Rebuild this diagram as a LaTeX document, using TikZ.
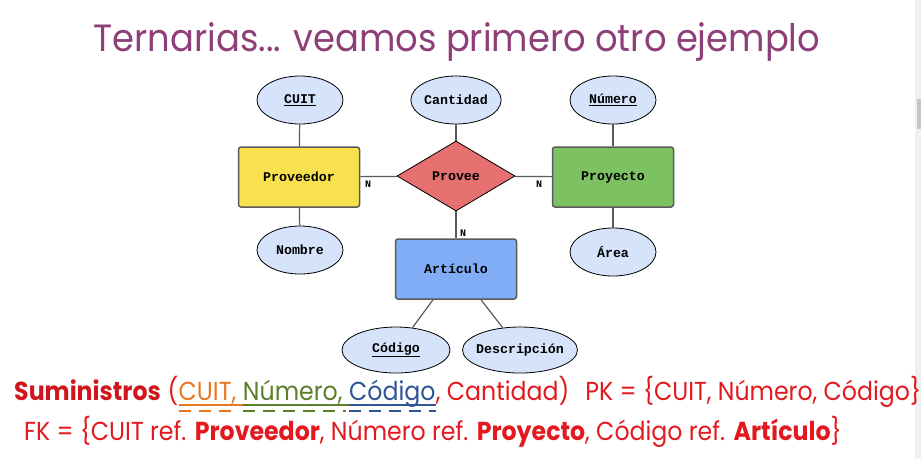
\documentclass[tikz,border=0pt]{standalone}
\usepackage{fontspec}
\setmainfont{Liberation Mono}
\newfontfamily\futura[FakeStretch=0.91]{Poppins}
\newfontfamily\futuraT[FakeStretch=0.93]{Poppins}
\usetikzlibrary{shapes.geometric,calc}
\definecolor{titlecol}{HTML}{8E3F78}
\definecolor{txtred}{HTML}{E3191F}
\definecolor{darkred}{HTML}{D0151C}
\definecolor{korange}{HTML}{E87722}
\definecolor{kgreen}{HTML}{5B7F2B}
\definecolor{kblue}{HTML}{2F5597}
\definecolor{attrfill}{HTML}{D6E4FB}
\definecolor{yelfill}{HTML}{F8E04E}
\definecolor{redfill}{HTML}{E5706F}
\definecolor{grnfill}{HTML}{7CC263}
\definecolor{blufill}{HTML}{80ADF6}
\definecolor{edgegray}{HTML}{5A5A5A}
\tikzset{
  attr/.style={ellipse, draw=black, line width=0.8pt, fill=attrfill, minimum width=86pt, minimum height=48pt, inner sep=0pt, font=\bfseries\fontsize{13.3}{13.3}\selectfont},
  entity/.style={rectangle, rounded corners=2.5pt, draw=edgegray, line width=1.5pt, minimum width=121pt, minimum height=60pt, inner sep=0pt, font=\bfseries\fontsize{13.3}{13.3}\selectfont},
  rel/.style={diamond, draw=black, line width=0.8pt, fill=redfill, minimum width=118pt, minimum height=70pt, inner sep=0pt, font=\bfseries\fontsize{13.3}{13.3}\selectfont},
  conn/.style={draw=edgegray, line width=1.2pt},
  card/.style={font=\bfseries\fontsize{10}{10}\selectfont, inner sep=0pt},
  txt/.style={inner sep=0pt, anchor=base west, font=\futura\fontsize{26}{26}\selectfont},
  solidul/.style={line width=2.6pt},
  dashul/.style={line width=2.8pt, dash pattern=on 12pt off 8pt},
}
\begin{document}
\begin{tikzpicture}[x=1pt,y=-1pt]
\useasboundingbox (0,0) rectangle (921,459);
% scrollbar
\fill[gray!12] (915,0) rectangle (921,459);
\fill[gray!45] (917,99) rectangle (921,129);
% title
\node[inner sep=0pt, anchor=base, text=titlecol, font=\futuraT\fontsize{38}{38}\selectfont] (title) at (457,51) {Ternarias... veamos primero otro ejemplo};
% ER diagram
\node[attr] (cuit) at (300,100) {\underline{CUIT}};
\node[attr] (cant) at (456,100) {Cantidad};
\node[attr] (num) at (613,100) {\underline{Número}};
\node[entity, fill=yelfill] (prov) at (299,177) {Proveedor};
\node[rel] (provee) at (456,176) {Provee};
\node[entity, fill=grnfill] (proy) at (613,177) {Proyecto};
\node[attr] (nom) at (300,250) {Nombre};
\node[attr] (area) at (613,252) {Área};
\node[entity, fill=blufill] (art) at (456,269) {Artículo};
\node[attr, minimum width=108pt, minimum height=46pt, inner xsep=-8pt] (cod) at (396,350) {\underline{Código}};
\node[attr, minimum width=115pt, minimum height=46pt, inner xsep=-10pt] (desc) at (520,350) {Descripción};
\draw[conn] (cuit) -- (prov);
\draw[conn] (nom) -- (prov);
\draw[conn] (cant) -- (provee);
\draw[conn] (num) -- (proy);
\draw[conn] (area) -- (proy);
\draw[conn] (prov) -- (provee);
\draw[conn] (provee) -- (proy);
\draw[conn] (provee) -- (art);
\draw[conn] ([xshift=-23pt]art.south) -- (cod);
\draw[conn] ([xshift=25pt]art.south) -- (desc);
\node[card] (n1) at (368,184) {N};
\node[card] (n2) at (539,184) {N};
\node[card] (n3) at (463,233) {N};
% relational text
\node[txt, text=darkred, font=\futura\bfseries\fontsize{26}{26}\selectfont] (sum) at (14,400) {Suministros};
\node[txt, text=txtred] (par) at (sum.base east) {\null\ (};
\node[txt, text=korange] (kc) at (par.base east) {CUIT,\ \null};
\node[txt, text=kgreen] (kn) at (kc.base east) {Número,\ \null};
\node[txt, text=kblue] (kd) at (kn.base east) {Código};
\node[txt, text=txtred] (rest) at (kd.base east) {, Cantidad)\hspace{16pt}PK = \{CUIT, Número, Código\}};
\draw[solidul, korange] ($(kc.base west)+(0,5)$) -- ($(kc.base east)+(0,5)$);
\draw[solidul, kgreen] ($(kn.base west)+(0,5)$) -- ($(kn.base east)+(0,5)$);
\draw[solidul, kblue] ($(kd.base west)+(0,5)$) -- ($(kd.base east)+(0,5)$);
\draw[dashul, korange] ($(kc.base west)+(0,11)$) -- ($(kc.base east)+(-8,11)$);
\draw[dashul, kgreen] ($(kn.base west)+(0,11)$) -- ($(kn.base east)+(-3,11)$);
\draw[dashul, kblue] ($(kd.base west)+(0,11)$) -- ($(kd.base east)+(0,11)$);
\node[txt, text=txtred] (fk) at (24,440) {FK = \{CUIT ref. \textbf{Proveedor}, Número ref. \textbf{Proyecto}, Código ref. \textbf{Artículo}\}};
\end{tikzpicture}
\end{document}
